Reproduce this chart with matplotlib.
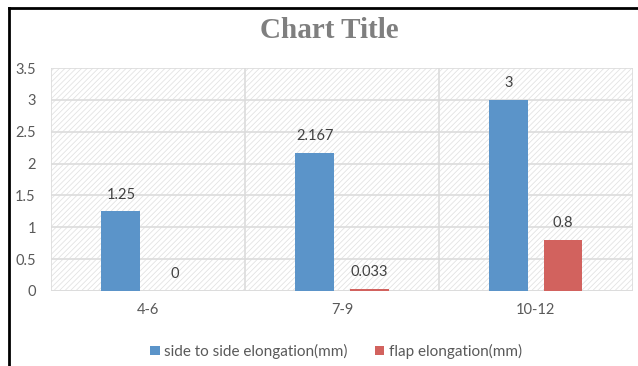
import matplotlib
matplotlib.use("Agg")
import matplotlib.pyplot as plt
from matplotlib.patches import Rectangle
from matplotlib.lines import Line2D
import numpy as np

categories = ["4-6", "7-9", "10-12"]
side_to_side = [1.25, 2.167, 3]
flap = [0, 0.033, 0.8]
side_labels = ["1.25", "2.167", "3"]
flap_labels = ["0", "0.033", "0.8"]
series_names = ["side to side elongation(mm)", "flap elongation(mm)"]
y_ticks = [0, 0.5, 1, 1.5, 2, 2.5, 3, 3.5]

BLUE = "#5b94c9"
RED = "#d2625e"
TEXT = "#595959"
GRID = "#dcdcdc"

plt.rcParams["font.family"] = ["Lato", "DejaVu Sans"]
plt.rcParams["hatch.linewidth"] = 0.6
plt.rcParams["hatch.color"] = "#e3e3e3"

fig = plt.figure(figsize=(6.38, 3.66), dpi=100)
ax = fig.add_axes([0.080, 0.205, 0.912, 0.609])

x = np.arange(len(categories))
width = 0.2
offset = 0.14

# hatched plot background
ax.add_patch(Rectangle((0, 0), 1, 1, transform=ax.transAxes, facecolor="white",
                       edgecolor="#e3e3e3", hatch="//////", linewidth=0, zorder=0))

b1 = ax.bar(x - offset, side_to_side, width, color=BLUE, zorder=3, label=series_names[0])
b2 = ax.bar(x + offset, flap, width, color=RED, zorder=3, label=series_names[1])

for xi, v, s in zip(x - offset, side_to_side, side_labels):
    ax.text(xi, v + 0.15, s, ha="center", va="bottom", fontsize=10.5, color="#404040")
for xi, v, s in zip(x + offset, flap, flap_labels):
    ax.text(xi, v + 0.15, s, ha="center", va="bottom", fontsize=10.5, color="#404040")

ax.set_xlim(-0.5, len(categories) - 0.5)
ax.set_ylim(0, 3.5)
ax.set_yticks(y_ticks)
ax.set_yticklabels([f"{t:g}" for t in y_ticks])
ax.set_xticks(x)
ax.set_xticklabels(categories)
ax.set_xticks(np.arange(len(categories) + 1) - 0.5, minor=True)

ax.tick_params(axis="both", which="both", length=0, colors=TEXT, labelsize=10.5)
ax.tick_params(axis="y", pad=11)
ax.tick_params(axis="x", pad=9)
ax.grid(axis="y", which="major", color=GRID, linewidth=1.2, zorder=1)
ax.grid(axis="x", which="minor", color=GRID, linewidth=1.2, zorder=1)
ax.grid(axis="x", which="major", visible=False)
for side in ["top", "right", "bottom", "left"]:
    ax.spines[side].set_visible(False)
ax.axhline(0, color=GRID, linewidth=1.2, zorder=2)

fig.text(0.516, 0.918, "Chart Title", ha="center", va="center", fontsize=21,
         fontweight="bold", color="#7f7f7f", family=["Liberation Serif", "DejaVu Serif"])

fig.legend(handles=[b1, b2], labels=series_names, loc="center", bbox_to_anchor=(0.527, 0.04),
           ncol=2, frameon=False, fontsize=11, labelcolor=TEXT, handlelength=0.6,
           handleheight=0.6, handletextpad=0.3, columnspacing=1.8)

# outer frame on left and top edges
fig.add_artist(Line2D([0.0135, 0.0135], [0, 0.978], transform=fig.transFigure, color="black", linewidth=2))
fig.add_artist(Line2D([0.0135, 1.0], [0.978, 0.978], transform=fig.transFigure, color="black", linewidth=2))

fig.savefig("out.png", dpi=100)
